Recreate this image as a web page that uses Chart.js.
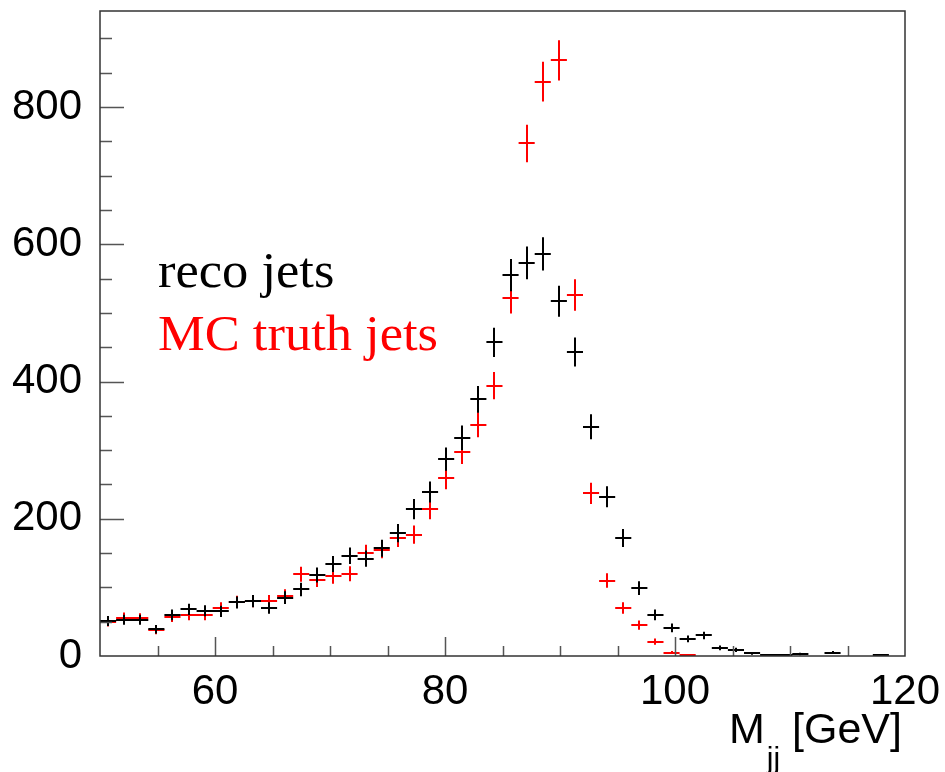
<!DOCTYPE html>
<html>
<head>
<meta charset="utf-8">
<script src="https://cdn.jsdelivr.net/npm/chart.js@4.4.1/dist/chart.umd.min.js"></script>
<style>
  html, body { margin: 0; padding: 0; background: #ffffff; }
  #wrap { position: relative; width: 945px; height: 772px; }
</style>
</head>
<body>
<div id="wrap"><canvas id="c" width="945" height="772"></canvas></div>
<script>
// Dijet invariant mass: 50 bins of 1.4 GeV between 50 and 120 GeV
const binLow = 50;
const binWidth = 1.4;

// bin contents, reconstructed jets
const recoCounts = [
  51, 53, 53, 39, 60, 68, 66, 65, 78, 80,
  70, 85, 97, 118, 134, 146, 142, 157, 179, 214,
  239, 287, 318, 374, 457, 555, 573, 586, 517, 443,
  334, 232, 172, 99, 60, 41, 25, 30, 12, 9,
  4, 1, 1, 3, 0, 5, 0, 0, 1, 0
];

// bin contents, generator-level (MC truth) jets
const truthCounts = [
  50, 56, 55, 38, 57, 60, 60, 70, 79, 80,
  80, 88, 119, 111, 116, 120, 150, 155, 172, 177,
  214, 259, 297, 337, 394, 522, 747, 837, 868, 526,
  237, 110, 70, 45, 21, 5, 1, 0, 0, 0,
  0, 0, 0, 0, 0, 0, 0, 0, 0, 0
];

const xTickValues = [60, 80, 100, 120];
const yTickValues = [0, 200, 400, 600, 800];
const seriesLabels = ['reco jets', 'MC truth jets'];
const seriesColors = ['#000000', '#ff0000'];

const binCenters = recoCounts.map((_, i) => binLow + binWidth * (i + 0.5));
const toPoints = counts => counts.map((v, i) => ({ x: binCenters[i], y: v }));

const SANS = '"Liberation Sans", Arial, Helvetica, sans-serif';
const SERIF = '"Liberation Serif", "Times New Roman", Times, serif';

// Histogram error crosses (bin width horizontally, sqrt(N) vertically),
// ROOT-like frame with inward ticks, and the text annotations.
const histPlugin = {
  id: 'histPlugin',
  afterDatasetsDraw(chart) {
    const { ctx, chartArea: a, scales: { x, y } } = chart;
    ctx.save();
    ctx.beginPath();
    ctx.rect(a.left, a.top, a.right - a.left, a.bottom - a.top);
    ctx.clip();
    ctx.lineCap = 'butt';
    chart.data.datasets.forEach(ds => {
      ctx.strokeStyle = ds.borderColor;
      ctx.lineWidth = 2;
      ctx.beginPath();
      ds.data.forEach(p => {
        if (!p.y) return;
        const err = Math.sqrt(p.y);
        const xl = x.getPixelForValue(p.x - binWidth / 2);
        const xr = x.getPixelForValue(p.x + binWidth / 2);
        const xc = Math.round(x.getPixelForValue(p.x));
        const yc = Math.round(y.getPixelForValue(p.y));
        ctx.moveTo(xl, yc); ctx.lineTo(xr, yc);
        ctx.moveTo(xc, y.getPixelForValue(p.y + err));
        ctx.lineTo(xc, y.getPixelForValue(p.y - err));
      });
      ctx.stroke();
    });
    ctx.restore();

    // ticks pointing into the frame
    ctx.save();
    ctx.strokeStyle = '#555555';
    ctx.lineWidth = 1.5;
    ctx.beginPath();
    for (let v = 55; v < 120; v += 5) {
      const px = Math.round(x.getPixelForValue(v)) + 0.5;
      const len = xTickValues.includes(v) ? 19 : 10;
      ctx.moveTo(px, a.bottom); ctx.lineTo(px, a.bottom - len);
    }
    for (let v = 50; v <= 900; v += 50) {
      const py = Math.round(y.getPixelForValue(v)) + 0.5;
      const len = yTickValues.includes(v) ? 24 : 12;
      ctx.moveTo(a.left, py); ctx.lineTo(a.left + len, py);
    }
    ctx.stroke();

    // frame
    ctx.strokeStyle = '#333333';
    ctx.lineWidth = 1.5;
    ctx.strokeRect(a.left, a.top, a.right - a.left, a.bottom - a.top);
    ctx.restore();
  },
  afterDraw(chart) {
    const { ctx, chartArea: a } = chart;
    ctx.save();
    // series annotations (slightly wide serif face)
    ctx.textBaseline = 'alphabetic';
    ctx.textAlign = 'left';
    ctx.font = '50px ' + SERIF;
    ctx.save();
    ctx.translate(158, 0);
    ctx.scale(1.05, 1);
    ctx.fillStyle = seriesColors[0];
    ctx.fillText(seriesLabels[0], 0, 287);
    ctx.fillStyle = seriesColors[1];
    ctx.fillText(seriesLabels[1], 0, 350);
    ctx.restore();

    // x-axis title  M_jj [GeV], right-aligned to the frame
    const main = '43px ' + SANS, sub = '30px ' + SANS;
    ctx.fillStyle = '#000000';
    ctx.font = main; const wM = ctx.measureText('M').width;
    const wRest = ctx.measureText(' [GeV]').width;
    ctx.font = sub; const wSub = ctx.measureText('jj').width;
    let xs = a.right - 3 - (wM + 2 + wSub + wRest);
    const base = 743;
    ctx.font = main; ctx.fillText('M', xs, base); xs += wM + 2;
    ctx.font = sub; ctx.fillText('jj', xs, base + 25); xs += wSub;
    ctx.font = main; ctx.fillText(' [GeV]', xs, base);
    ctx.restore();
  }
};

new Chart(document.getElementById('c'), {
  type: 'scatter',
  data: {
    datasets: [
      { label: seriesLabels[1], data: toPoints(truthCounts), borderColor: seriesColors[1], backgroundColor: seriesColors[1], pointRadius: 0, showLine: false },
      { label: seriesLabels[0], data: toPoints(recoCounts), borderColor: seriesColors[0], backgroundColor: seriesColors[0], pointRadius: 0, showLine: false }
    ]
  },
  options: {
    responsive: false,
    animation: false,
    devicePixelRatio: 1,
    layout: { padding: { left: 0, top: 11, right: 40, bottom: 0 } },
    plugins: { legend: { display: false }, tooltip: { enabled: false }, title: { display: false } },
    scales: {
      x: {
        type: 'linear', min: 50, max: 120,
        grid: { display: false, drawTicks: false },
        border: { display: false },
        afterBuildTicks: s => { s.ticks = xTickValues.map(v => ({ value: v })); },
        afterFit: s => { s.height = 116; s.paddingLeft = 0; s.paddingRight = 0; },
        ticks: { padding: 11, maxRotation: 0, autoSkip: false, color: '#000000', font: { family: SANS, size: 42 } }
      },
      y: {
        type: 'linear', min: 0, max: 940,
        grid: { display: false, drawTicks: false },
        border: { display: false },
        afterBuildTicks: s => { s.ticks = yTickValues.map(v => ({ value: v })); },
        afterFit: s => { s.width = 100; s.paddingTop = 0; s.paddingBottom = 0; },
        ticks: { padding: 18, autoSkip: false, color: '#000000', font: { family: SANS, size: 42 } }
      }
    }
  },
  plugins: [histPlugin]
});
</script>
</body>
</html>
